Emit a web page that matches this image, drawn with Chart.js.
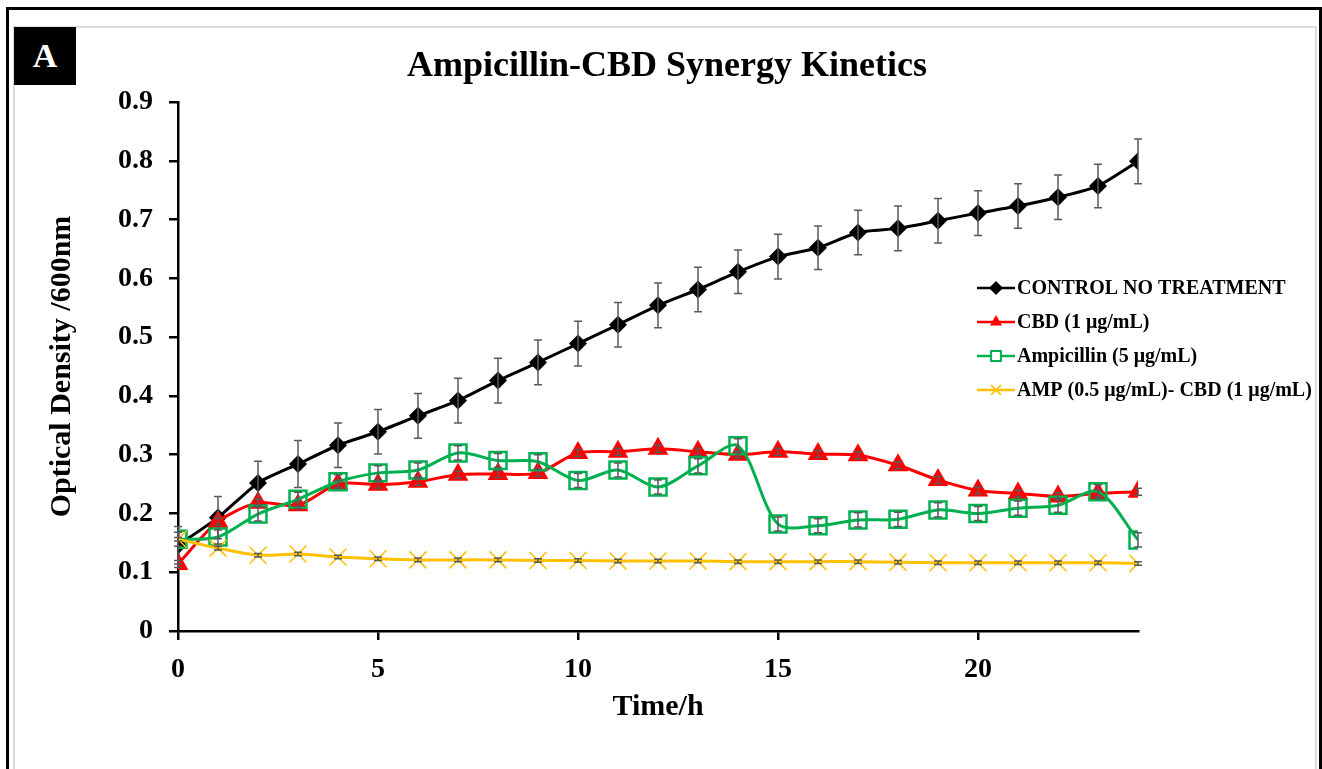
<!DOCTYPE html>
<html lang="en">
<head>
    <meta charset="utf-8">
    <title>Ampicillin-CBD Synergy Kinetics</title>
    <script src="https://cdn.jsdelivr.net/npm/chart.js"></script>
    <style>
        html, body {
            margin: 0;
            background: #fff;
            overflow: hidden;
        }
        #outer {
            position: absolute;
            left: 6px; top: 7px; width: 1310px; height: 800px;
            border: 3px solid #000;
        }
        #inner {
            position: absolute;
            left: 13px; top: 26px; width: 1300px; height: 800px;
            border: 2px solid #dcdcdc;
        }
        #tag {
            position: absolute;
            left: 14px; top: 27px; width: 62px; height: 58px;
            background: #000; color: #fff;
            font: bold 34px "Liberation Serif", serif;
            text-align: center; line-height: 58px;
            z-index: 3;
        }
        #wrap {
            position: absolute;
            left: 0; top: 0; width: 1322px; height: 769px;
            z-index: 2;
        }
    </style>
</head>
<body>

<div id="outer"></div>
<div id="inner"></div>
<div id="tag">A</div>
<div id="wrap"><canvas id="myChart" width="1322" height="769"></canvas></div>

<script>
    // time points (h)
    const hours = [0, 1, 2, 3, 4, 5, 6, 7, 8, 9, 10, 11, 12, 13, 14, 15, 16, 17, 18, 19, 20, 21, 22, 23, 24];
    const xTicks = [0, 5, 10, 15, 20];

    const control = [0.146, 0.193, 0.252, 0.284, 0.316, 0.339, 0.366, 0.392, 0.426, 0.457, 0.489, 0.521, 0.554,
        0.581, 0.611, 0.637, 0.652, 0.678, 0.685, 0.698, 0.711, 0.723, 0.738, 0.757, 0.799];
    const controlErr = [0.032, 0.036, 0.037, 0.040, 0.038, 0.038, 0.038, 0.038, 0.038, 0.038, 0.038, 0.038, 0.038,
        0.038, 0.037, 0.038, 0.037, 0.038, 0.038, 0.038, 0.038, 0.038, 0.038, 0.037, 0.038];

    const cbd = [0.114, 0.186, 0.218, 0.214, 0.250, 0.249, 0.254, 0.266, 0.267, 0.269, 0.303, 0.305, 0.310,
        0.305, 0.300, 0.305, 0.301, 0.299, 0.282, 0.257, 0.239, 0.234, 0.229, 0.234, 0.237];
    const cbdErr = [0.006, 0.006, 0.006, 0.006, 0.006, 0.006, 0.006, 0.006, 0.006, 0.006, 0.006, 0.006, 0.006,
        0.006, 0.006, 0.006, 0.006, 0.006, 0.006, 0.006, 0.006, 0.006, 0.006, 0.006, 0.006];

    const amp = [0.156, 0.160, 0.199, 0.224, 0.254, 0.269, 0.274, 0.303, 0.290, 0.288, 0.256, 0.274, 0.245,
        0.281, 0.315, 0.182, 0.179, 0.189, 0.190, 0.206, 0.200, 0.209, 0.214, 0.237, 0.155];
    const ampErr = [0.012, 0.012, 0.012, 0.012, 0.012, 0.012, 0.012, 0.012, 0.012, 0.012, 0.012, 0.012, 0.012,
        0.012, 0.012, 0.012, 0.012, 0.012, 0.012, 0.012, 0.012, 0.012, 0.012, 0.012, 0.012];

    const ampCbd = [0.156, 0.141, 0.129, 0.131, 0.126, 0.123, 0.121, 0.121, 0.121, 0.120, 0.120, 0.119, 0.119,
        0.119, 0.118, 0.118, 0.118, 0.118, 0.117, 0.116, 0.116, 0.116, 0.116, 0.116, 0.115];
    const ampCbdErr = [0.003, 0.003, 0.003, 0.003, 0.003, 0.003, 0.003, 0.003, 0.003, 0.003, 0.003, 0.003, 0.003,
        0.003, 0.003, 0.003, 0.003, 0.003, 0.003, 0.003, 0.003, 0.003, 0.003, 0.003, 0.003];

    const seriesNames = ['CONTROL NO TREATMENT', 'CBD (1 μg/mL)', 'Ampicillin (5 μg/mL)', 'AMP (0.5 μg/mL)- CBD (1 μg/mL)'];
    const chartTitle = 'Ampicillin-CBD Synergy Kinetics';

    const serif = '"Liberation Serif", "Times New Roman", serif';

    // draw a marker shape by hand (used for the legend samples)
    function marker(ctx, style, x, y, r, fill, stroke) {
        ctx.save();
        ctx.beginPath();
        if (style === 'rectRot') {
            ctx.moveTo(x, y - r); ctx.lineTo(x + r, y); ctx.lineTo(x, y + r); ctx.lineTo(x - r, y); ctx.closePath();
            ctx.fillStyle = fill; ctx.fill();
        } else if (style === 'triangle') {
            ctx.moveTo(x, y - r); ctx.lineTo(x + r * 0.87, y + r * 0.5); ctx.lineTo(x - r * 0.87, y + r * 0.5); ctx.closePath();
            ctx.fillStyle = fill; ctx.fill();
        } else if (style === 'rect') {
            ctx.rect(x - r * 0.7, y - r * 0.7, r * 1.4, r * 1.4);
            ctx.fillStyle = '#fff'; ctx.fill();
            ctx.strokeStyle = stroke; ctx.lineWidth = 2; ctx.stroke();
        } else {
            const d = r * 0.7;
            ctx.moveTo(x - d, y - d); ctx.lineTo(x + d, y + d);
            ctx.moveTo(x + d, y - d); ctx.lineTo(x - d, y + d);
            ctx.strokeStyle = stroke; ctx.lineWidth = 1.5; ctx.stroke();
        }
        ctx.restore();
    }

    const errorBars = {
        id: 'errorBars',
        afterDatasetsDraw(chart) {
            const ctx = chart.ctx;
            const xs = chart.scales.x, ys = chart.scales.y;
            ctx.save();
            ctx.strokeStyle = '#595959';
            ctx.lineWidth = 1.5;
            chart.data.datasets.forEach(function (ds) {
                ds.err.forEach(function (e, i) {
                    const x = xs.getPixelForValue(hours[i]);
                    const y1 = ys.getPixelForValue(ds.data[i] + e);
                    const y2 = ys.getPixelForValue(ds.data[i] - e);
                    ctx.beginPath();
                    ctx.moveTo(x, y1); ctx.lineTo(x, y2);
                    ctx.moveTo(x - 4, y1); ctx.lineTo(x + 4, y1);
                    ctx.moveTo(x - 4, y2); ctx.lineTo(x + 4, y2);
                    ctx.stroke();
                });
            });
            ctx.restore();
        }
    };

    // title and legend, placed like the original figure
    const decorations = {
        id: 'decorations',
        afterDraw(chart) {
            const ctx = chart.ctx;
            ctx.save();
            ctx.fillStyle = '#000';
            ctx.font = 'bold 36px ' + serif;
            ctx.textAlign = 'center';
            ctx.textBaseline = 'middle';
            ctx.fillText(chartTitle, 667, 67);

            const left = 977, top = 288, gap = 34;
            ctx.font = 'bold 20px ' + serif;
            ctx.textAlign = 'left';
            chart.data.datasets.forEach(function (ds, i) {
                const y = top + i * gap;
                ctx.beginPath();
                ctx.moveTo(left, y); ctx.lineTo(left + 38, y);
                ctx.strokeStyle = ds.borderColor; ctx.lineWidth = 2.5; ctx.stroke();
                marker(ctx, ds.pointStyle, left + 19, y, 7, ds.borderColor, ds.borderColor);
                ctx.fillStyle = '#000';
                ctx.fillText(ds.label, left + 40, y + 1);
            });
            ctx.restore();
        }
    };

    const data = {
        labels: hours,
        datasets: [{
            label: seriesNames[0],
            data: control,
            err: controlErr,
            borderColor: '#000000',
            backgroundColor: '#000000',
            borderWidth: 3,
            pointStyle: 'rectRot',
            pointRadius: 9,
            pointBorderWidth: 0,
            tension: 0.2,
            order: 3
        }, {
            label: seriesNames[1],
            data: cbd,
            err: cbdErr,
            borderColor: '#FF0000',
            backgroundColor: '#FF0000',
            borderWidth: 3,
            pointStyle: 'triangle',
            pointRadius: 12,
            pointBorderWidth: 0,
            tension: 0.3,
            order: 2
        }, {
            label: seriesNames[2],
            data: amp,
            err: ampErr,
            borderColor: '#00B050',
            backgroundColor: 'rgba(0,0,0,0)',
            pointBackgroundColor: 'rgba(0,0,0,0)',
            borderWidth: 3,
            pointStyle: 'rect',
            pointRadius: 12,
            pointBorderWidth: 2.5,
            tension: 0.3,
            order: 1
        }, {
            label: seriesNames[3],
            data: ampCbd,
            err: ampCbdErr,
            borderColor: '#FFC000',
            backgroundColor: '#FFC000',
            borderWidth: 3,
            pointStyle: 'crossRot',
            pointRadius: 12,
            pointBorderWidth: 1.5,
            tension: 0.3,
            order: 0
        }]
    };

    const config = {
        type: 'line',
        data: data,
        plugins: [errorBars, decorations],
        options: {
            responsive: false,
            animation: false,
            layout: {
                padding: {left: 20, right: 184, top: 102, bottom: 38}
            },
            plugins: {
                legend: {display: false},
                tooltip: {enabled: false},
                title: {display: false}
            },
            scales: {
                x: {
                    type: 'linear',
                    min: 0,
                    max: 24,
                    afterBuildTicks: function (s) {
                        s.ticks = xTicks.map(v => ({value: v}));
                    },
                    afterFit: function (s) { s.height = 100; },
                    grid: {drawOnChartArea: false, drawTicks: true, tickLength: 9, color: '#000', lineWidth: 2.5},
                    border: {color: '#000', width: 2.5},
                    ticks: {color: '#000', padding: 13, maxRotation: 0, font: {family: serif, size: 28, weight: 'bold'}},
                    title: {
                        display: true, text: 'Time/h', color: '#000',
                        font: {family: serif, size: 30, weight: 'bold', lineHeight: 1.2},
                        padding: {top: 0, bottom: 6}
                    }
                },
                y: {
                    min: 0,
                    max: 0.9,
                    afterFit: function (s) { s.width = 158; },
                    grid: {drawOnChartArea: false, drawTicks: true, tickLength: 9, color: '#000', lineWidth: 2.5},
                    border: {color: '#000', width: 2.5},
                    ticks: {
                        stepSize: 0.1, color: '#000', padding: 16,
                        font: {family: serif, size: 28, weight: 'bold'},
                        callback: v => (Math.abs(v) < 1e-9 ? '0' : v.toFixed(1))
                    },
                    title: {
                        display: true, text: 'Optical Density /600nm', color: '#000',
                        font: {family: serif, size: 30, weight: 'bold', lineHeight: 1.2},
                        padding: {top: 24, bottom: 0}
                    }
                }
            }
        }
    };

    const myChart = new Chart(document.getElementById('myChart'), config);
</script>

</body>
</html>
